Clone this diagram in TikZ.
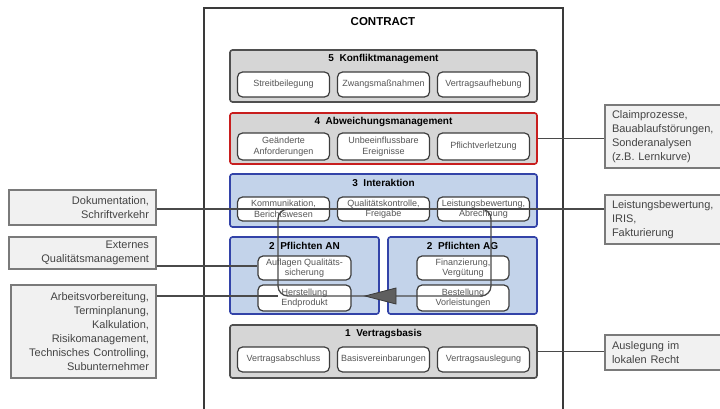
\documentclass[tikz,border=0pt]{standalone}
\usepackage{fontspec}
\setmainfont{Liberation Sans}
\usetikzlibrary{calc}
\definecolor{linec}{HTML}{4A4A4A}
\definecolor{framec}{HTML}{3A3A3A}
\definecolor{grayfill}{HTML}{D6D6D6}
\definecolor{grayedge}{HTML}{4F4F4F}
\definecolor{redge}{HTML}{C81E1E}
\definecolor{bluefill}{HTML}{C3D3EA}
\definecolor{bluedge}{HTML}{3343A8}
\definecolor{subedge}{HTML}{3C3C3C}
\definecolor{subtext}{HTML}{555555}
\definecolor{sidefill}{HTML}{F1F1F1}
\definecolor{sideedge}{HTML}{7A7A7A}
\definecolor{sidetext}{HTML}{444444}
\definecolor{trifill}{HTML}{5F5F5F}
\begin{document}
\begin{tikzpicture}[x=1pt,y=-1pt,
  contractbox/.style={draw=framec, line width=2pt, inner sep=0},
  layerbox/.style={line width=1.6pt, rounded corners=2.5pt, inner sep=0},
  graylayer/.style={layerbox, draw=grayedge, fill=grayfill},
  redlayer/.style={layerbox, draw=redge, fill=grayfill},
  bluelayer/.style={layerbox, draw=bluedge, fill=bluefill},
  subbox/.style={draw=subedge, fill=white, line width=1.2pt, rounded corners=5pt,
    font=\fontsize{9}{10.5}\selectfont, text=subtext, align=center, inner sep=0},
  ltitle/.style={font=\fontsize{10}{12}\selectfont\bfseries, inner sep=0},
  sidebox/.style={draw=sideedge, fill=sidefill, line width=1.5pt,
    font=\fontsize{11}{14}\selectfont, text=sidetext, inner xsep=7pt, inner ysep=0},
  conn/.style={draw=linec, line width=1.3pt}]
\useasboundingbox (0,0) rectangle (720,409);

% contract frame
\node[contractbox, minimum width=359, minimum height=420] (contract) at (383,218) {};
\node[font=\fontsize{11.5}{13}\selectfont\bfseries, inner sep=0] (ct) at (383,22) {CONTRACT};

% layer 5
\node[graylayer, minimum width=307, minimum height=52] (l5) at (383.5,76) {};
\node[ltitle] (t5) at ($(l5.north)+(0,10)$) {5\ \ Konfliktmanagement};
\node[subbox, minimum width=92, minimum height=25] (s5a) at (283.5,84.5) {Streitbeilegung};
\node[subbox, minimum width=92, minimum height=25] (s5b) at (383.5,84.5) {Zwangsmaßnahmen};
\node[subbox, minimum width=92, minimum height=25] (s5c) at (483.5,84.5) {Vertragsaufhebung};

% layer 4
\node[redlayer, minimum width=307, minimum height=51] (l4) at (383.5,138.5) {};
\node[ltitle] (t4) at ($(l4.north)+(0,10)$) {4\ \ Abweichungsmanagement};
\node[subbox, minimum width=92, minimum height=27] (s4a) at (283.5,146.5) {Geänderte\\Anforderungen};
\node[subbox, minimum width=92, minimum height=27] (s4b) at (383.5,146.5) {Unbeeinflussbare\\Ereignisse};
\node[subbox, minimum width=92, minimum height=27] (s4c) at (483.5,146.5) {Pflichtverletzung};

% layer 3
\node[bluelayer, minimum width=307, minimum height=53] (l3) at (383.5,200.5) {};
\node[ltitle] (t3) at ($(l3.north)+(0,10)$) {3\ \ Interaktion};
\node[subbox, minimum width=92, minimum height=24] (kom) at (283.5,209) {Kommunikation,\\Berichtswesen};
\node[subbox, minimum width=92, minimum height=24] (qua) at (383.5,209) {Qualitätskontrolle,\\Freigabe};
\node[subbox, minimum width=92, minimum height=24] (lba) at (483.5,209) {Leistungsbewertung,\\Abrechnung};

% layer 2
\node[bluelayer, minimum width=149, minimum height=77] (l2n) at (304.5,275.5) {};
\node[ltitle] (t2n) at ($(l2n.north)+(0,9.5)$) {2\ \ Pflichten AN};
\node[bluelayer, minimum width=149, minimum height=77] (l2g) at (462.5,275.5) {};
\node[ltitle] (t2g) at ($(l2g.north)+(0,9.5)$) {2\ \ Pflichten AG};
\node[subbox, minimum width=93, minimum height=24] (auf) at (304.5,268) {Auflagen Qualitäts-\\sicherung};
\node[subbox, minimum width=93, minimum height=26] (her) at (304.5,298) {Herstellung\\Endprodukt};
\node[subbox, minimum width=92, minimum height=24] (fin) at (463,268) {Finanzierung,\\Vergütung};
\node[subbox, minimum width=92, minimum height=26] (bes) at (463,298) {Bestellung\\Vorleistungen};

% layer 1
\node[graylayer, minimum width=307, minimum height=53] (l1) at (383.5,351.5) {};
\node[ltitle] (t1) at ($(l1.north)+(0,10)$) {1\ \ Vertragsbasis};
\node[subbox, minimum width=92, minimum height=25] (s1a) at (283.5,359.5) {Vertragsabschluss};
\node[subbox, minimum width=92, minimum height=25] (s1b) at (383.5,359.5) {Basisvereinbarungen};
\node[subbox, minimum width=92, minimum height=25] (s1c) at (483.5,359.5) {Vertragsauslegung};

% side boxes left
\node[sidebox, minimum width=147, minimum height=35, text width=133, align=right] (dok) at (82.5,207.5) {Dokumentation,\\Schriftverkehr};
\node[sidebox, minimum width=147, minimum height=32, text width=133, align=right] (ext) at (82.5,253) {Externes\\Qualitätsmanagement};
\node[sidebox, minimum width=145, minimum height=93, text width=131, align=right] (arb) at (83.5,331.5) {Arbeitsvorbereitung,\\Terminplanung,\\Kalkulation,\\Risikomanagement,\\Technisches Controlling,\\Subunternehmer};

% side boxes right
\node[sidebox, minimum width=130, minimum height=63, text width=116, align=left] (claim) at (670,136.5) {Claimprozesse,\\Bauablaufstörungen,\\Sonderanalysen\\(z.B. Lernkurve)};
\node[sidebox, minimum width=130, minimum height=49, text width=116, align=left] (leist) at (670,219.5) {Leistungsbewertung,\\IRIS,\\Fakturierung};
\node[sidebox, minimum width=130, minimum height=35, text width=116, align=left] (ausl) at (670,352.5) {Auslegung im\\lokalen Recht};

% connectors
\coordinate (lpA) at (278,209);
\coordinate (lpB) at (491,296);
\draw[conn] (dok.east |- 0,209) -- (leist.west |- 0,209);
\draw[conn, rounded corners=10pt] (lpA) rectangle (lpB);
\draw[conn] (arb.east |- 0,296) -- (lpA |- 0,296);
\draw[conn] (ext.east |- 0,266) -- (auf.west |- 0,266);
\draw[conn] (l4.east) -- (claim.west |- l4.east);
\draw[conn] (l1.east) -- (ausl.west |- l1.east);
\draw[draw=framec, fill=trifill, line width=0.8pt] (365,296) -- (396,288) -- (396,304) -- cycle;
\end{tikzpicture}
\end{document}
